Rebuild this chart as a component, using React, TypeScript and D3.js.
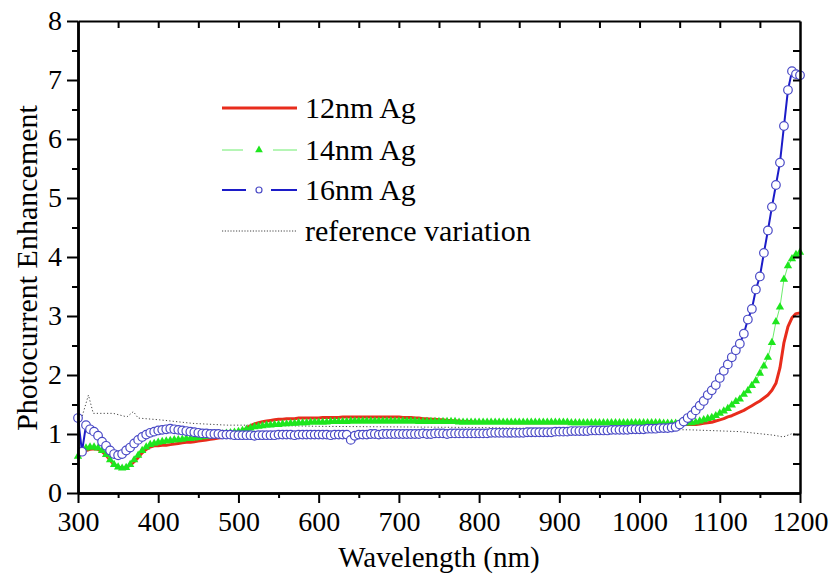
import React, { useEffect, useRef } from 'react';
import * as d3 from 'd3';

// ---------- DATA ----------
const wavelengths = [
  300, 305, 310, 315, 320, 325, 330, 335, 340, 345, 350, 355, 360, 365, 370, 375, 380, 385, 390, 395,
  400, 405, 410, 415, 420, 425, 430, 435, 440, 445, 450, 455, 460, 465, 470, 475, 480, 485, 490, 495,
  500, 505, 510, 515, 520, 525, 530, 535, 540, 545, 550, 555, 560, 565, 570, 575, 580, 585, 590, 595,
  600, 605, 610, 615, 620, 625, 630, 635, 640, 645, 650, 655, 660, 665, 670, 675, 680, 685, 690, 695,
  700, 705, 710, 715, 720, 725, 730, 735, 740, 745, 750, 755, 760, 765, 770, 775, 780, 785, 790, 795,
  800, 805, 810, 815, 820, 825, 830, 835, 840, 845, 850, 855, 860, 865, 870, 875, 880, 885, 890, 895,
  900, 905, 910, 915, 920, 925, 930, 935, 940, 945, 950, 955, 960, 965, 970, 975, 980, 985, 990, 995,
  1000, 1005, 1010, 1015, 1020, 1025, 1030, 1035, 1040, 1045, 1050, 1055, 1060, 1065, 1070, 1075, 1080, 1085, 1090, 1095,
  1100, 1105, 1110, 1115, 1120, 1125, 1130, 1135, 1140, 1145, 1150, 1155, 1160, 1165, 1170, 1175, 1180, 1185, 1190, 1195,
  1200,
];

const ag12 = [
  0.60, 0.68, 0.72, 0.74, 0.75, 0.74, 0.70, 0.64, 0.56, 0.48, 0.44, 0.42, 0.43, 0.47, 0.53, 0.60, 0.68, 0.74, 0.78, 0.80,
  0.80, 0.81, 0.81, 0.82, 0.83, 0.84, 0.85, 0.86, 0.86, 0.87, 0.88, 0.89, 0.90, 0.91, 0.92, 0.93, 0.94, 0.95, 0.96, 0.97,
  1.01, 1.05, 1.10, 1.14, 1.17, 1.19, 1.21, 1.22, 1.23, 1.24, 1.25, 1.25, 1.26, 1.26, 1.26, 1.27, 1.27, 1.27, 1.27, 1.27,
  1.27, 1.28, 1.28, 1.28, 1.28, 1.28, 1.29, 1.29, 1.29, 1.29, 1.29, 1.29, 1.29, 1.29, 1.29, 1.29, 1.29, 1.29, 1.29, 1.29,
  1.29, 1.28, 1.28, 1.28, 1.27, 1.27, 1.26, 1.26, 1.25, 1.25, 1.24, 1.24, 1.23, 1.23, 1.22, 1.22, 1.21, 1.21, 1.21, 1.20,
  1.20, 1.20, 1.20, 1.20, 1.20, 1.20, 1.20, 1.19, 1.19, 1.19, 1.19, 1.19, 1.19, 1.19, 1.19, 1.19, 1.19, 1.19, 1.19, 1.19,
  1.19, 1.19, 1.19, 1.19, 1.19, 1.18, 1.18, 1.18, 1.18, 1.18, 1.18, 1.18, 1.18, 1.18, 1.18, 1.18, 1.18, 1.18, 1.18, 1.18,
  1.18, 1.18, 1.18, 1.17, 1.17, 1.17, 1.17, 1.17, 1.17, 1.17, 1.17, 1.17, 1.16, 1.16, 1.16, 1.17, 1.18, 1.19, 1.20, 1.22,
  1.24, 1.26, 1.29, 1.31, 1.34, 1.37, 1.40, 1.44, 1.48, 1.52, 1.56, 1.61, 1.66, 1.74, 1.86, 2.12, 2.55, 2.82, 2.97, 3.04,
  3.05,
];

const ag14 = [
  0.62, 0.72, 0.76, 0.78, 0.78, 0.76, 0.72, 0.65, 0.56, 0.48, 0.44, 0.42, 0.43, 0.48, 0.56, 0.64, 0.72, 0.78, 0.82, 0.84,
  0.86, 0.87, 0.88, 0.89, 0.90, 0.90, 0.91, 0.92, 0.92, 0.93, 0.94, 0.95, 0.96, 0.97, 0.98, 0.99, 1.00, 1.01, 1.02, 1.03,
  1.04, 1.06, 1.08, 1.10, 1.12, 1.13, 1.14, 1.15, 1.15, 1.16, 1.16, 1.17, 1.17, 1.18, 1.18, 1.19, 1.19, 1.19, 1.20, 1.20,
  1.20, 1.20, 1.20, 1.21, 1.21, 1.21, 1.21, 1.21, 1.22, 1.22, 1.22, 1.22, 1.22, 1.22, 1.22, 1.22, 1.22, 1.22, 1.22, 1.22,
  1.22, 1.22, 1.22, 1.22, 1.22, 1.21, 1.21, 1.21, 1.21, 1.21, 1.21, 1.21, 1.21, 1.21, 1.21, 1.20, 1.20, 1.20, 1.20, 1.20,
  1.20, 1.20, 1.20, 1.20, 1.20, 1.20, 1.20, 1.20, 1.20, 1.20, 1.20, 1.20, 1.20, 1.20, 1.20, 1.20, 1.20, 1.20, 1.20, 1.20,
  1.20, 1.20, 1.20, 1.19, 1.19, 1.19, 1.19, 1.19, 1.19, 1.19, 1.19, 1.19, 1.19, 1.19, 1.19, 1.19, 1.19, 1.19, 1.19, 1.19,
  1.19, 1.19, 1.19, 1.19, 1.19, 1.19, 1.18, 1.18, 1.18, 1.18, 1.18, 1.18, 1.19, 1.19, 1.20, 1.22, 1.24, 1.26, 1.28, 1.31,
  1.35, 1.39, 1.43, 1.49, 1.55, 1.59, 1.67, 1.73, 1.82, 1.90, 2.03, 2.15, 2.30, 2.55, 2.90, 3.15, 3.62, 3.85, 3.97, 4.04,
  4.08,
];

const ag16 = [
  1.27, 0.70, 1.15, 1.08, 1.04, 0.97, 0.87, 0.80, 0.72, 0.66, 0.64, 0.66, 0.72, 0.77, 0.84, 0.90, 0.95, 0.99, 1.02, 1.04,
  1.06, 1.07, 1.08, 1.09, 1.08, 1.07, 1.06, 1.05, 1.04, 1.03, 1.02, 1.01, 1.01, 1.00, 1.00, 1.00, 0.99, 0.99, 0.99, 0.98,
  0.98, 0.98, 0.98, 0.98, 0.97, 0.98, 0.98, 0.98, 0.98, 0.98, 0.99, 0.99, 0.99, 0.99, 0.98, 0.99, 0.99, 0.99, 0.99, 0.99,
  0.99, 0.99, 0.99, 0.98, 0.99, 0.99, 0.99, 0.99, 0.90, 0.97, 0.99, 0.99, 0.99, 1.00, 1.00, 0.99, 1.00, 1.00, 1.00, 1.00,
  1.00, 1.00, 1.00, 1.00, 1.00, 1.00, 1.01, 1.00, 1.00, 1.01, 1.01, 1.01, 1.00, 1.01, 1.01, 1.01, 1.01, 1.01, 1.01, 1.01,
  1.01, 1.01, 1.01, 1.02, 1.02, 1.02, 1.02, 1.02, 1.02, 1.02, 1.02, 1.02, 1.03, 1.03, 1.03, 1.03, 1.03, 1.03, 1.03, 1.04,
  1.04, 1.04, 1.04, 1.05, 1.05, 1.05, 1.05, 1.05, 1.06, 1.06, 1.06, 1.06, 1.06, 1.07, 1.07, 1.07, 1.07, 1.07, 1.08, 1.08,
  1.08, 1.08, 1.09, 1.09, 1.09, 1.10, 1.10, 1.10, 1.11, 1.12, 1.16, 1.21, 1.27, 1.32, 1.40, 1.48, 1.56, 1.66, 1.74, 1.83,
  1.95, 2.07, 2.18, 2.30, 2.42, 2.53, 2.70, 2.94, 3.12, 3.45, 3.67, 4.07, 4.45, 4.85, 5.22, 5.60, 6.22, 6.83, 7.15, 7.10,
  7.08,
];

const refWavelengths = [300, 305, 313, 319, 331, 344, 361, 369, 375, 402, 443, 486, 518, 600, 700, 800, 900, 1000, 1064, 1126, 1167, 1179, 1191, 1200];
const refVariation = [1.22, 1.29, 1.66, 1.35, 1.35, 1.35, 1.29, 1.38, 1.27, 1.24, 1.18, 1.15, 1.15, 1.13, 1.12, 1.11, 1.09, 1.08, 1.07, 1.04, 0.98, 0.95, 1.01, 0.97];

const xMajorTicks = [300, 400, 500, 600, 700, 800, 900, 1000, 1100, 1200];
const xMinorTicks = [350, 450, 550, 650, 750, 850, 950, 1050, 1150];
const yMajorTicks = [0, 1, 2, 3, 4, 5, 6, 7, 8];
const yMinorTicks = [0.5, 1.5, 2.5, 3.5, 4.5, 5.5, 6.5, 7.5];

const legendLabels = ['12nm Ag', '14nm Ag', '16nm Ag', 'reference variation'];

// ---------- STYLE ----------
const FONT = "'Liberation Serif', 'Times New Roman', Tinos, 'DejaVu Serif', serif";
const RED = '#e82c1c';
const GREEN = '#1ee61e';
const GREEN_LINE = '#6cec6c';
const BLUE_LINE = '#1c1cc8';
const BLUE_MARK = '#4a4ac6';
const REF = '#444';

export default function App() {
  const ref = useRef<SVGSVGElement>(null);

  useEffect(() => {
    const svg = d3.select(ref.current);
    svg.selectAll('*').remove();

    const x = d3.scaleLinear().domain([300, 1200]).range([78, 800]);
    const y = d3.scaleLinear().domain([0, 8]).range([493, 21]);

    const pts = (vals: number[], wls: number[]) => vals.map((v, i) => [wls[i], v] as [number, number]);
    const line = d3.line<[number, number]>().x(d => x(d[0])).y(d => y(d[1]));

    const g = svg.append('g');

    // reference variation (dotted)
    g.append('path')
      .attr('d', line(pts(refVariation, refWavelengths)))
      .attr('fill', 'none')
      .attr('stroke', REF)
      .attr('stroke-width', 1)
      .attr('stroke-dasharray', '1.2,2.2');

    // 12nm red line
    g.append('path')
      .attr('d', line(pts(ag12, wavelengths)))
      .attr('fill', 'none')
      .attr('stroke', RED)
      .attr('stroke-width', 3)
      .attr('stroke-linejoin', 'round');

    // 14nm green
    const p14 = pts(ag14, wavelengths);
    g.append('path')
      .attr('d', line(p14))
      .attr('fill', 'none')
      .attr('stroke', GREEN_LINE)
      .attr('stroke-width', 1);
    const tri = d3.symbol().type(d3.symbolTriangle).size(30);
    g.append('g').selectAll('path').data(p14).join('path')
      .attr('d', tri() as string)
      .attr('transform', d => `translate(${x(d[0])},${y(d[1])})`)
      .attr('fill', GREEN);

    // 16nm blue
    const p16 = pts(ag16, wavelengths);
    g.append('path')
      .attr('d', line(p16))
      .attr('fill', 'none')
      .attr('stroke', BLUE_LINE)
      .attr('stroke-width', 2);
    g.append('g').selectAll('circle').data(p16).join('circle')
      .attr('cx', d => x(d[0]))
      .attr('cy', d => y(d[1]))
      .attr('r', 4.3)
      .attr('fill', 'white')
      .attr('stroke', BLUE_MARK)
      .attr('stroke-width', 1.2);

    // ---------- AXES ----------
    const styleAxis = (sel: any, w: number) => {
      sel.attr('font-family', null).attr('font-size', null);
      sel.select('.domain').attr('stroke', '#000').attr('stroke-width', w);
      sel.selectAll('.tick line').attr('stroke', '#000').attr('stroke-width', 2);
      sel.selectAll('text').style('font-family', FONT).style('font-size', '28px').attr('fill', '#000');
    };

    // bottom
    const bMinor = svg.append('g').attr('transform', 'translate(0,493)')
      .call(d3.axisBottom(x).tickValues(xMinorTicks).tickSize(5).tickSizeOuter(0).tickFormat(() => ''));
    styleAxis(bMinor, 2.5);
    const bMajor = svg.append('g').attr('transform', 'translate(0,493)')
      .call(d3.axisBottom(x).tickValues(xMajorTicks).tickSize(10).tickSizeOuter(0).tickPadding(8).tickFormat(d3.format('d')));
    styleAxis(bMajor, 2.5);

    // left
    const lMinor = svg.append('g').attr('transform', 'translate(78,0)')
      .call(d3.axisLeft(y).tickValues(yMinorTicks).tickSize(6).tickSizeOuter(0).tickFormat(() => ''));
    styleAxis(lMinor, 2.5);
    const lMajor = svg.append('g').attr('transform', 'translate(78,0)')
      .call(d3.axisLeft(y).tickValues(yMajorTicks).tickSize(11).tickSizeOuter(0).tickPadding(5).tickFormat(d3.format('d')));
    styleAxis(lMajor, 2.5);

    // top (inward ticks)
    const top = svg.append('g').attr('transform', 'translate(0,21)')
      .call(d3.axisTop(x).tickValues([...xMajorTicks, ...xMinorTicks].filter(v => v > 300 && v < 1200)).tickSize(-7).tickSizeOuter(0).tickFormat(() => ''));
    styleAxis(top, 2);

    // right (inward ticks)
    const right = svg.append('g').attr('transform', 'translate(800,0)')
      .call(d3.axisRight(y).tickValues([...yMajorTicks, ...yMinorTicks].filter(v => v > 0 && v < 8)).tickSize(-7).tickSizeOuter(0).tickFormat(() => ''));
    styleAxis(right, 2.5);

    // axis titles
    svg.append('text')
      .attr('x', 439).attr('y', 567)
      .attr('text-anchor', 'middle')
      .style('font-family', FONT).style('font-size', '29px')
      .text('Wavelength (nm)');
    svg.append('text')
      .attr('transform', 'translate(37,268) rotate(-90)')
      .attr('text-anchor', 'middle')
      .style('font-family', FONT).style('font-size', '30px')
      .text('Photocurrent Enhancement');

    // ---------- LEGEND ----------
    const lg = svg.append('g');
    const rows = [108, 150, 190, 231];
    const x0 = 222, x1 = 297, tx = 305;
    // red
    lg.append('line').attr('x1', x0).attr('x2', x1).attr('y1', rows[0]).attr('y2', rows[0])
      .attr('stroke', RED).attr('stroke-width', 3);
    // green
    [[x0, 243], [273, x1]].forEach(([a, b]) => {
      lg.append('line').attr('x1', a).attr('x2', b).attr('y1', rows[1]).attr('y2', rows[1])
        .attr('stroke', GREEN_LINE).attr('stroke-width', 1);
    });
    lg.append('path').attr('d', d3.symbol().type(d3.symbolTriangle).size(26)() as string)
      .attr('transform', `translate(259,${rows[1]})`).attr('fill', GREEN);
    // blue
    [[x0, 246], [271, x1]].forEach(([a, b]) => {
      lg.append('line').attr('x1', a).attr('x2', b).attr('y1', rows[2]).attr('y2', rows[2])
        .attr('stroke', BLUE_LINE).attr('stroke-width', 2);
    });
    lg.append('circle').attr('cx', 259).attr('cy', rows[2]).attr('r', 3)
      .attr('fill', 'white').attr('stroke', BLUE_MARK).attr('stroke-width', 1.2);
    // reference
    lg.append('line').attr('x1', x0).attr('x2', x1).attr('y1', rows[3]).attr('y2', rows[3])
      .attr('stroke', REF).attr('stroke-width', 1).attr('stroke-dasharray', '1.2,1.6');

    legendLabels.forEach((t, i) => {
      lg.append('text').attr('x', tx).attr('y', rows[i] + 10)
        .style('font-family', FONT).style('font-size', '30px').attr('fill', '#000')
        .text(t);
    });
  }, []);

  return (
    <svg
      ref={ref}
      width={840}
      height={577}
      style={{ position: 'absolute', left: 0, top: 0, background: '#fff' }}
    />
  );
}
